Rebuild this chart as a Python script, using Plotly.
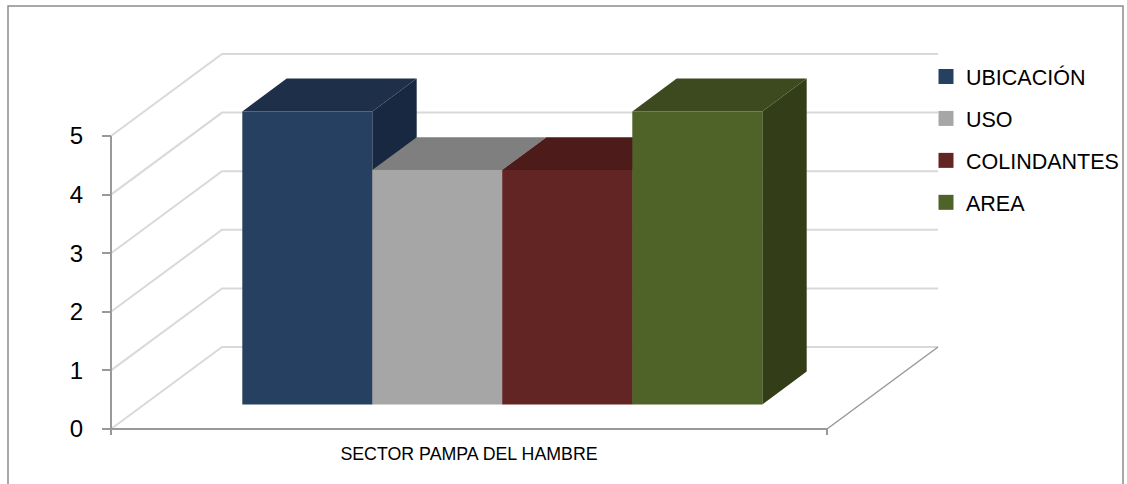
import plotly.graph_objects as go

# ---------------- data ----------------
categories = ["SECTOR PAMPA DEL HAMBRE"]
series_names = ["UBICACIÓN", "USO", "COLINDANTES", "AREA"]
series_values = [5, 4, 4, 5]
y_ticks = [0, 1, 2, 3, 4, 5]

# ---------------- styles ----------------
front_colors = ["#254061", "#A6A6A6", "#632523", "#4F6228"]
top_colors = ["#1E3049", "#7F7F7F", "#4D1B1A", "#3D4A1F"]
side_colors = ["#172840", "#6B6B6B", "#401615", "#333E19"]
GRID = "#D9D9D9"
AXIS = "#999999"
FONT = "Liberation Sans, Arial, sans-serif"

# pixel scale of axes (px per data unit)
PX_X = 130.0
PX_Y = 58.6
# oblique projection of the depth axis (in data units)
DEPTH_X = 111 / PX_X
DEPTH_Y = 82 / PX_Y
FLOOR_W = 716 / PX_X
BAR_W = 1.0
T0, T1 = 0.3, 0.7


def proj(X, Y, T):
    return X + T * DEPTH_X, Y + T * DEPTH_Y


def poly(pts):
    xs = [p[0] for p in pts] + [pts[0][0]]
    ys = [p[1] for p in pts] + [pts[0][1]]
    return xs, ys


fig = go.Figure()

# back wall gridlines + side wall diagonals
for v in y_ticks:
    a = proj(0, v, 0)
    b = proj(0, v, 1)
    c = proj(FLOOR_W, v, 1)
    fig.add_trace(go.Scatter(x=[a[0], b[0], c[0]], y=[a[1], b[1], c[1]], mode="lines",
                             line=dict(color=GRID, width=2), hoverinfo="skip", showlegend=False))

# floor right edge
fr0 = proj(FLOOR_W, 0, 0)
fr1 = proj(FLOOR_W, 0, 1)
fig.add_trace(go.Scatter(x=[fr0[0], fr1[0]], y=[fr0[1], fr1[1]], mode="lines",
                         line=dict(color=AXIS, width=1.5), hoverinfo="skip", showlegend=False))

# bars
n = len(series_values)
start = (FLOOR_W - n * BAR_W) / 2
for i, (name, v) in enumerate(zip(series_names, series_values)):
    x0 = start + i * BAR_W
    x1 = x0 + BAR_W
    side = [proj(x1, 0, T0), proj(x1, 0, T1), proj(x1, v, T1), proj(x1, v, T0)]
    top = [proj(x0, v, T0), proj(x1, v, T0), proj(x1, v, T1), proj(x0, v, T1)]
    front = [proj(x0, 0, T0), proj(x1, 0, T0), proj(x1, v, T0), proj(x0, v, T0)]
    for pts, col in ((side, side_colors[i]), (top, top_colors[i]), (front, front_colors[i])):
        xs, ys = poly(pts)
        fig.add_trace(go.Scatter(x=xs, y=ys, mode="lines", fill="toself", fillcolor=col,
                                 line=dict(width=0, color=col), hoverinfo="skip",
                                 showlegend=False))

# front axes lines (value axis + category axis) with end ticks
tk = 6 / PX_Y
fig.add_trace(go.Scatter(x=[0, 0, None, 0, FLOOR_W, None, FLOOR_W, FLOOR_W],
                         y=[y_ticks[-1], -tk, None, 0, 0, None, 0, -tk], mode="lines",
                         line=dict(color=AXIS, width=2), hoverinfo="skip", showlegend=False))

# legend entries
for name, col in zip(series_names, front_colors):
    fig.add_trace(go.Scatter(x=[None], y=[None], mode="markers", name=name, legendgroup=name,
                             marker=dict(symbol="square", size=15, color=col)))

W, H = 1127, 484
ML, MR, MT, MB = 100, 187, 40, 44
PW, PH = W - ML - MR, H - MT - MB
X_ORIG, Y_ORIG = 111, 429  # pixel position of data (0, 0)
xmin = -(X_ORIG - ML) / PX_X
ymin = -(H - MB - Y_ORIG) / PX_Y

fig.update_layout(
    width=W, height=H,
    margin=dict(l=ML, r=MR, t=MT, b=MB, autoexpand=False),
    paper_bgcolor="white", plot_bgcolor="white",
    xaxis=dict(range=[xmin, xmin + PW / PX_X], showgrid=False, zeroline=False, showline=False,
               tickvals=[FLOOR_W / 2], ticktext=categories, ticks="",
               tickfont=dict(family=FONT, size=17.8, color="black"), ticklabelstandoff=1,
               fixedrange=True),
    yaxis=dict(range=[ymin, ymin + PH / PX_Y], anchor="free", position=(X_ORIG - ML) / PW,
               showgrid=False, zeroline=False, showline=False,
               tickvals=y_ticks, ticks="outside", ticklen=9, tickwidth=2, tickcolor=AXIS,
               tickfont=dict(family=FONT, size=24, color="black"), ticklabelstandoff=14,
               fixedrange=True),
    legend=dict(x=(926 - ML) / PW, y=1 - (56 - MT) / PH, xanchor="left", yanchor="top",
                font=dict(family=FONT, size=21.5, color="black"), traceorder="grouped",
                tracegroupgap=11, bgcolor="rgba(0,0,0,0)"),
    shapes=[dict(type="rect", xref="paper", yref="paper",
                 x0=(8 - ML) / PW, x1=(1123 - ML) / PW,
                 y0=1 - (495 - MT) / PH, y1=1 + (MT - 6) / PH,
                 line=dict(color="#8C8C8C", width=1.5), fillcolor="rgba(0,0,0,0)", layer="below")],
)

fig.write_html("out.html", config={"displayModeBar": False},
               post_script="document.body.style.margin='0';")
